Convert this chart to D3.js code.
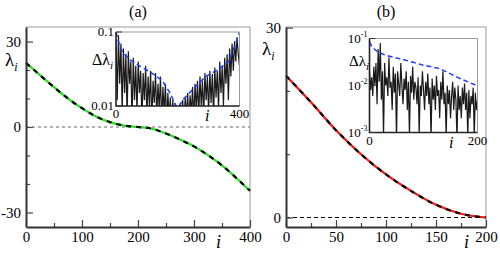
<!DOCTYPE html>
<html>
<head>
<meta charset="utf-8">
<script src="https://cdn.jsdelivr.net/npm/d3@7"></script>
<style>
body{margin:0;background:#fff;}
svg{display:block;}
svg text{font-family:"Liberation Serif","Times New Roman",Times,"DejaVu Serif",serif;}
</style>
</head>
<body>
<svg></svg>
<script>
// panel (a): eigenvalues, i = 0..400
var idxA = [0,25,50,75,100,125,150,175,200,225,250,275,300,325,350,375,400];
var lamA = [22.5,18.2,14.0,10.0,6.6,3.7,1.7,0.5,0,-0.6,-2.3,-4.4,-6.8,-9.9,-13.5,-17.8,-22.4];
// panel (b): eigenvalues, i = 0..200
var idxB = [0,25,50,75,100,125,150,175,200];
var lamB = [22.4,18.2,13.8,10.0,6.8,4.2,2.0,0.6,0];

// inset (a): spacing fluctuations (every 4th i) and envelope
var sigA = [0.08,0.012,0.09,0.02,0.07,0.008,0.06,0.015,0.05,0.007,
  0.055,0.02,0.04,0.006,0.045,0.012,0.035,0.008,0.04,0.015,
  0.03,0.006,0.028,0.012,0.035,0.007,0.025,0.01,0.03,0.006,
  0.022,0.011,0.028,0.007,0.02,0.009,0.025,0.006,0.018,0.008,
  0.02,0.006,0.015,0.007,0.013,0.005,0.012,0.006,0.011,0.005,
  0.009,0.005,0.011,0.006,0.012,0.005,0.013,0.007,0.015,0.006,
  0.014,0.008,0.018,0.006,0.02,0.009,0.022,0.007,0.025,0.01,
  0.022,0.007,0.028,0.012,0.025,0.008,0.03,0.011,0.027,0.007,
  0.033,0.013,0.03,0.009,0.04,0.015,0.035,0.01,0.045,0.02,
  0.05,0.012,0.06,0.025,0.07,0.03,0.075,0.04,0.085,0.05,0.035];
var envAi = [0,10,20,45,80,110,150,175,190,198,205,215,250,290,330,365,385,400];
var envAv = [0.1,0.07,0.055,0.042,0.034,0.029,0.022,0.015,0.011,0.0095,0.0098,0.012,0.017,0.025,0.031,0.04,0.065,0.1];

// inset (b): spacing fluctuations (every 2nd i) and envelope
var sigB = [0.02,0.008,0.015,0.006,0.025,0.01,0.03,0.004,0.06,0.012,
  0.08,0.005,0.02,0.0008,0.03,0.01,0.015,0.006,0.04,0.009,
  0.012,0.003,0.025,0.007,0.018,0.0007,0.02,0.011,0.006,0.03,
  0.01,0.004,0.014,0.008,0.02,0.003,0.012,0.0008,0.016,0.007,
  0.025,0.005,0.012,0.009,0.004,0.015,0.0009,0.01,0.006,0.02,
  0.008,0.003,0.012,0.006,0.018,0.004,0.009,0.0007,0.014,0.005,
  0.01,0.003,0.016,0.006,0.008,0.002,0.012,0.005,0.02,0.004,
  0.007,0.0008,0.01,0.004,0.008,0.002,0.006,0.012,0.003,0.009,
  0.005,0.0007,0.01,0.003,0.006,0.002,0.009,0.004,0.011,0.003,
  0.007,0.0008,0.008,0.002,0.006,0.004,0.009,0.0008,0.007,0.003,0.005];
var envBi = [0,5,15,30,65,100,130,165,200];
var envBv = [0.085,0.065,0.052,0.044,0.035,0.027,0.023,0.0145,0.0098];

var svg = d3.select('svg').attr('width',500).attr('height',253);
var serif = '"Liberation Serif","Times New Roman",Times,serif';

var drawMain = function(o)
{
  var x = d3.scaleLinear().domain(o.xd).range([o.left,o.right]);
  var y = d3.scaleLinear().domain(o.yd).range([o.bottom,o.top]);
  var g = svg.append('g');

  // top / right frame
  g.append('path')
    .attr('d','M'+o.left+','+o.top+'H'+o.right+'V'+o.bottom)
    .attr('fill','none').attr('stroke','#999').attr('stroke-width',1);

  // zero line
  g.append('line')
    .attr('x1',o.left).attr('x2',o.right)
    .attr('y1',y(0)).attr('y2',y(0))
    .attr('stroke',o.zeroColor).attr('stroke-width',o.zeroWidth)
    .attr('stroke-dasharray',o.zeroDash);

  var line = d3.line()
    .x(function(d){return x(d[0])})
    .y(function(d){return y(d[1])})
    .curve(d3.curveMonotoneX);
  var pts = o.xs.map(function(v,k){return [v,o.ys[k]]});
  g.append('path').datum(pts).attr('d',line)
    .attr('fill','none').attr('stroke',o.color).attr('stroke-width',2.2);
  g.append('path').datum(pts).attr('d',line)
    .attr('fill','none').attr('stroke','#000').attr('stroke-width',2.2)
    .attr('stroke-dasharray','5,5');

  // minor ticks
  g.append('g').attr('transform','translate(0,'+o.bottom+')')
    .call(d3.axisBottom(x).tickValues(o.xMinor).tickFormat('').tickSizeInner(-4).tickSizeOuter(0))
    .call(function(s){s.select('.domain').remove()});
  g.append('g').attr('transform','translate('+o.left+',0)')
    .call(d3.axisLeft(y).tickValues(o.yMinor).tickFormat('').tickSizeInner(-4).tickSizeOuter(0))
    .call(function(s){s.select('.domain').remove()});

  var fmt = function(d){return String(d)};
  var xa = g.append('g').attr('transform','translate(0,'+o.bottom+')')
    .call(d3.axisBottom(x).tickValues(o.xTicks).tickFormat(fmt).tickSizeInner(-7).tickSizeOuter(0).tickPadding(4));
  var ya = g.append('g').attr('transform','translate('+o.left+',0)')
    .call(d3.axisLeft(y).tickValues(o.yTicks).tickFormat(fmt).tickSizeInner(-7).tickSizeOuter(0).tickPadding(5));
  [xa,ya].forEach(function(a){
    a.attr('font-family',serif);
    a.select('.domain').attr('stroke','#333').attr('stroke-width',2);
    a.selectAll('text').attr('font-size',15).attr('fill','#000');
  });
  g.selectAll('.tick line').attr('stroke','#444').attr('stroke-width',1.2);

  g.append('text').attr('x',(o.left+o.right)/2).attr('y',17)
    .attr('text-anchor','middle').attr('font-size',16).text(o.title);
  g.append('text').attr('x',o.iX).attr('y',248)
    .attr('font-size',18).attr('font-style','italic').text('i');
  var lt = g.append('text').attr('x',o.lamX).attr('y',o.lamY).attr('font-size',19).text('λ');
  lt.append('tspan').attr('font-size',12).attr('font-style','italic').attr('dy',5).text('i');
};

var drawInset = function(o)
{
  var x = d3.scaleLinear().domain(o.xd).range([o.left,o.right]);
  var y = d3.scaleLog().domain(o.yd).range([o.bottom,o.top]);
  var g = svg.append('g');
  g.append('rect').attr('x',o.left).attr('y',o.top)
    .attr('width',o.right-o.left).attr('height',o.bottom-o.top).attr('fill','#fff');
  g.append('clipPath').attr('id',o.id).append('rect')
    .attr('x',o.left).attr('y',o.top)
    .attr('width',o.right-o.left).attr('height',o.bottom-o.top);

  var line = d3.line()
    .x(function(d){return x(d[0])})
    .y(function(d){return y(d[1])});
  var sig = o.sig.map(function(v,k){return [k*o.step,v]});
  g.append('path').datum(sig).attr('d',line).attr('clip-path','url(#'+o.id+')')
    .attr('fill','none').attr('stroke','#1a1a1a').attr('stroke-width',1.2);
  var env = o.envI.map(function(v,k){return [v,o.envV[k]]});
  g.append('path').datum(env).attr('d',line).attr('clip-path','url(#'+o.id+')')
    .attr('fill','none').attr('stroke','#1a3cff').attr('stroke-width',1.5)
    .attr('stroke-dasharray','5,3');

  g.append('path')
    .attr('d','M'+o.left+','+o.top+'H'+o.right+'V'+o.bottom)
    .attr('fill','none').attr('stroke','#999').attr('stroke-width',1);
  g.append('path')
    .attr('d','M'+o.left+','+o.top+'V'+o.bottom+'H'+o.right)
    .attr('fill','none').attr('stroke','#222').attr('stroke-width',1.6);

  // y ticks and labels
  o.yTicks.forEach(function(t,k){
    g.append('line').attr('x1',o.left).attr('x2',o.left+6)
      .attr('y1',y(t)).attr('y2',y(t)).attr('stroke','#333');
    var tx = g.append('text').attr('x',o.left-2).attr('y',y(t)+4)
      .attr('text-anchor','end').attr('font-size',13);
    if(o.sup){
      tx.text('10');
      tx.append('tspan').attr('font-size',8).attr('dy',-6).text(o.yLabels[k]);
    } else {
      tx.text(o.yLabels[k]);
    }
  });
  o.xTicks.forEach(function(t){
    g.append('text').attr('x',x(t)).attr('y',o.bottom+12)
      .attr('text-anchor','middle').attr('font-size',13).text(t);
  });
  g.append('text').attr('x',o.iX).attr('y',o.bottom+15)
    .attr('font-size',16).attr('font-style','italic').text('i');
  var dl = g.append('text').attr('x',o.dX).attr('y',o.dY).attr('font-size',o.dSize).text('Δλ');
  dl.append('tspan').attr('font-size',11).attr('font-style','italic').attr('dy',4).text('i');
};

drawMain({
  left:26, right:250, top:27, bottom:227,
  xd:[0,400], yd:[-35.1,35.1],
  xTicks:[0,100,200,300,400], xMinor:[50,150,250,350],
  yTicks:[-30,0,30], yMinor:[-20,-10,10,20],
  xs:idxA, ys:lamA, color:'#22e022',
  zeroColor:'#999', zeroWidth:1.6, zeroDash:'3,3',
  title:'(a)', iX:216, lamX:5, lamY:66
});
drawMain({
  left:286, right:486, top:27, bottom:227,
  xd:[0,200], yd:[-1.5,30.1],
  xTicks:[0,50,100,150,200], xMinor:[25,75,125,175],
  yTicks:[0,30], yMinor:[10,20],
  xs:idxB, ys:lamB, color:'#ff1010',
  zeroColor:'#000', zeroWidth:1, zeroDash:'4,3',
  title:'(b)', iX:464, lamX:262, lamY:55
});

drawInset({
  id:'clipA', left:116, right:239.5, top:32, bottom:106,
  xd:[0,400], yd:[0.01,0.1], xTicks:[0,400],
  yTicks:[0.1,0.01], yLabels:['0.1','0.01'], sup:false,
  sig:sigA, step:4, envI:envAi, envV:envAv,
  iX:205, dX:92, dY:65, dSize:16
});
drawInset({
  id:'clipB', left:369.5, right:477.5, top:38.5, bottom:132.5,
  xd:[0,200], yd:[0.001,0.1], xTicks:[0,200],
  yTicks:[0.1,0.01,0.001], yLabels:['-1','-2','-3'], sup:true,
  sig:sigB, step:2, envI:envBi, envV:envBv,
  iX:449, dX:349, dY:66, dSize:15
});
</script>
</body>
</html>
